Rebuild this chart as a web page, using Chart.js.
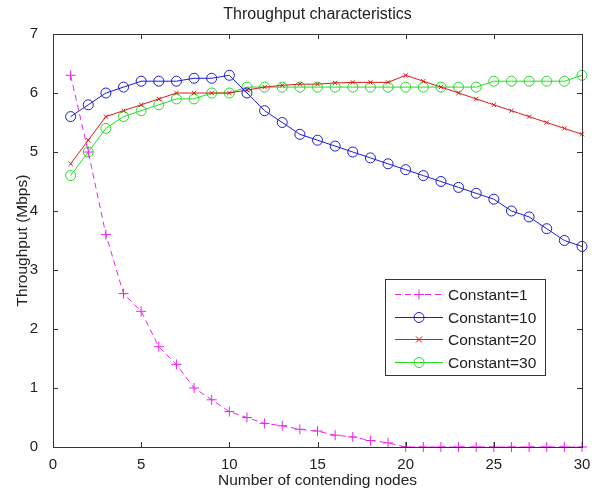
<!DOCTYPE html>
<html>
<head>
<meta charset="utf-8">
<script src="https://cdn.jsdelivr.net/npm/chart.js@4.4.1/dist/chart.umd.min.js"></script>
<style>
  html, body { margin: 0; padding: 0; background: #fff; }
  #wrap { width: 595px; height: 490px; }
</style>
</head>
<body>
<div id="wrap"><canvas id="thr" width="595" height="490"></canvas></div>
<script>
// ---- data ----
var nodes = [1,2,3,4,5,6,7,8,9,10,11,12,13,14,15,16,17,18,19,20,21,22,23,24,25,26,27,28,29,30];
var const1  = [6.3,5.0,3.6,2.6,2.3,1.7,1.4,1.0,0.8,0.6,0.5,0.4,0.36,0.3,0.27,0.2,0.17,0.11,0.07,0,0,0,0,0,0,0,0,0,0,0];
var const10 = [5.6,5.8,6.0,6.1,6.2,6.2,6.2,6.25,6.25,6.3,6.0,5.7,5.5,5.3,5.2,5.1,5.0,4.9,4.8,4.7,4.6,4.5,4.4,4.3,4.2,4.0,3.9,3.7,3.5,3.4];
var const20 = [4.8,5.2,5.6,5.7,5.8,5.9,6.0,6.0,6.0,6.0,6.05,6.1,6.13,6.15,6.15,6.17,6.18,6.18,6.18,6.3,6.2,6.1,6.0,5.9,5.8,5.7,5.6,5.5,5.4,5.3];
var const30 = [4.6,5.0,5.4,5.6,5.7,5.8,5.9,5.9,6.0,6.0,6.1,6.1,6.1,6.1,6.1,6.1,6.1,6.1,6.1,6.1,6.1,6.1,6.1,6.1,6.2,6.2,6.2,6.2,6.2,6.3];
var seriesNames = ['Constant=1', 'Constant=10', 'Constant=20', 'Constant=30'];
var xTicks = [0, 5, 10, 15, 20, 25, 30];
var yTicks = [0, 1, 2, 3, 4, 5, 6, 7];

var FONT = "'Liberation Sans', Arial, sans-serif";
var TXT = '#222';
var AXC = '#333';

function pts(ys) {
  return nodes.map(function (x, i) { return { x: x, y: ys[i] }; });
}

// box + inward tick marks, matlab style
var frame = {
  id: 'frame',
  afterDatasetsDraw: function (chart) {
    var ctx = chart.ctx, a = chart.chartArea;
    var sx = chart.scales.x, sy = chart.scales.y;
    var tl = 5;
    ctx.save();
    ctx.strokeStyle = AXC;
    ctx.lineWidth = 1;
    ctx.beginPath();
    xTicks.forEach(function (v) {
      var px = Math.round(sx.getPixelForValue(v)) + 0.5;
      ctx.moveTo(px, a.bottom); ctx.lineTo(px, a.bottom - tl);
      ctx.moveTo(px, a.top); ctx.lineTo(px, a.top + tl);
    });
    yTicks.forEach(function (v) {
      var py = Math.round(sy.getPixelForValue(v)) + 0.5;
      ctx.moveTo(a.left, py); ctx.lineTo(a.left + tl, py);
      ctx.moveTo(a.right, py); ctx.lineTo(a.right - tl, py);
    });
    ctx.stroke();
    ctx.strokeRect(Math.round(a.left) + 0.5, Math.round(a.top) + 0.5,
      Math.round(a.right - a.left), Math.round(a.bottom - a.top));
    ctx.restore();
  }
};

function marker(ctx, style, r, x, y) {
  ctx.beginPath();
  if (style === 'circle') {
    ctx.arc(x, y, r, 0, Math.PI * 2);
  } else if (style === 'cross') {
    ctx.moveTo(x - r, y); ctx.lineTo(x + r, y);
    ctx.moveTo(x, y - r); ctx.lineTo(x, y + r);
  } else {
    ctx.moveTo(x - r, y - r); ctx.lineTo(x + r, y + r);
    ctx.moveTo(x - r, y + r); ctx.lineTo(x + r, y - r);
  }
  ctx.stroke();
}

// legend box inside the plot, lower right
var boxLegend = {
  id: 'boxLegend',
  afterDraw: function (chart) {
    var ctx = chart.ctx;
    var bx = 385, by = 279, bw = 160, bh = 96;
    ctx.save();
    ctx.fillStyle = '#fff';
    ctx.fillRect(bx, by, bw, bh);
    ctx.strokeStyle = AXC;
    ctx.lineWidth = 1;
    ctx.strokeRect(bx + 0.5, by + 0.5, bw, bh);
    ctx.font = '15.5px ' + FONT;
    ctx.textBaseline = 'middle';
    ctx.textAlign = 'left';
    chart.data.datasets.forEach(function (ds, i) {
      var y = Math.round(by + 15 + i * 22.5) + 0.5;
      ctx.strokeStyle = ds.borderColor;
      ctx.lineWidth = 1;
      ctx.setLineDash(ds.borderDash || []);
      ctx.beginPath();
      ctx.moveTo(bx + 10, y); ctx.lineTo(bx + 58, y);
      ctx.stroke();
      ctx.setLineDash([]);
      marker(ctx, ds.pointStyle, ds.pointRadius, bx + 34, y);
      ctx.fillStyle = TXT;
      ctx.fillText(ds.label, bx + 63, y + 1);
    });
    ctx.restore();
  }
};

var cols = ['#ee22ee', '#1c1cd0', '#dd1a1a', '#22dd22'];

new Chart(document.getElementById('thr'), {
  type: 'line',
  data: {
    datasets: [
      { label: seriesNames[0], data: pts(const1), borderColor: cols[0], borderDash: [6, 4],
        pointStyle: 'cross', pointRadius: 5 },
      { label: seriesNames[1], data: pts(const10), borderColor: cols[1],
        pointStyle: 'circle', pointRadius: 5 },
      { label: seriesNames[2], data: pts(const20), borderColor: cols[2],
        pointStyle: 'crossRot', pointRadius: 3 },
      { label: seriesNames[3], data: pts(const30), borderColor: cols[3],
        pointStyle: 'circle', pointRadius: 5 }
    ].map(function (d) {
      d.borderWidth = 1;
      d.pointBorderColor = d.borderColor;
      d.pointBackgroundColor = 'rgba(0,0,0,0)';
      d.pointBorderWidth = 1;
      d.pointHoverRadius = d.pointRadius;
      d.tension = 0;
      d.fill = false;
      d.clip = false;
      return d;
    })
  },
  options: {
    responsive: false,
    animation: false,
    events: [],
    layout: { padding: { left: 0, right: 13, top: 0, bottom: 0 } },
    plugins: {
      legend: { display: false },
      tooltip: { enabled: false },
      title: {
        display: true,
        fullSize: false,
        text: 'Throughput characteristics',
        color: TXT,
        font: { family: FONT, size: 16, weight: 'normal' },
        padding: { top: 5, bottom: 9.8 }
      }
    },
    scales: {
      x: {
        type: 'linear', min: 0, max: 30,
        afterBuildTicks: function (s) { s.ticks = xTicks.map(function (v) { return { value: v }; }); },
        afterFit: function (s) { s.height = 43; },
        grid: { display: false },
        border: { display: false },
        ticks: { color: TXT, font: { family: FONT, size: 15 }, padding: 1, maxRotation: 0 },
        title: { display: true, text: 'Number of contending nodes', color: TXT,
                 font: { family: FONT, size: 15.5 }, padding: { top: 0, bottom: 0 } }
      },
      y: {
        type: 'linear', min: 0, max: 7,
        afterBuildTicks: function (s) { s.ticks = yTicks.map(function (v) { return { value: v }; }); },
        afterFit: function (s) { s.width = 53; },
        grid: { display: false },
        border: { display: false },
        ticks: { color: TXT, font: { family: FONT, size: 15 }, padding: 7 },
        title: { display: true, text: 'Throughput (Mbps)', color: TXT,
                 font: { family: FONT, size: 15.5 }, padding: { top: 13, bottom: 0 } }
      }
    }
  },
  plugins: [frame, boxLegend]
});
</script>
</body>
</html>
